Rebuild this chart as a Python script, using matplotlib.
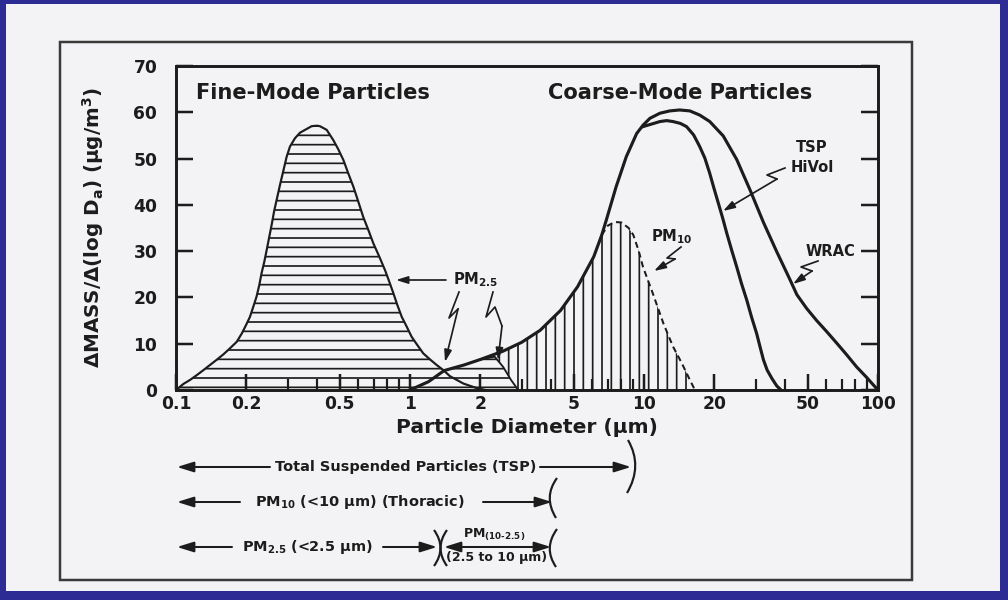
import matplotlib
matplotlib.use("Agg")
import matplotlib.pyplot as plt
from matplotlib.patches import Rectangle, FancyArrowPatch, PathPatch, ArrowStyle
from matplotlib.lines import Line2D
from matplotlib.path import Path
from matplotlib.ticker import FixedLocator, NullFormatter, LogLocator

plt.rcParams['font.family'] = ['DejaVu Sans']
plt.rcParams['font.weight'] = 'bold'
plt.rcParams['mathtext.default'] = 'bf'
plt.rcParams['hatch.linewidth'] = 1.1

# ---------------- data ----------------
fine_d = [0.1, 0.1075, 0.115, 0.1226, 0.131, 0.1397, 0.149, 0.1594, 0.170, 0.1817,
          0.191, 0.1991, 0.207, 0.214, 0.221, 0.227, 0.232, 0.2384, 0.244, 0.2504,
          0.257, 0.2623, 0.269, 0.2782, 0.288, 0.2971, 0.307, 0.3225, 0.339, 0.3619,
          0.38, 0.40, 0.412, 0.4406, 0.47, 0.4938, 0.519, 0.5448, 0.573, 0.6012,
          0.631, 0.6634, 0.697, 0.7394, 0.782, 0.8156, 0.849, 0.8824, 0.922, 0.9678,
          1.016, 1.075, 1.14, 1.218, 1.30, 1.388, 1.48, 1.69, 1.93, 2.1]
fine_v = [0.0, 1.3, 2.2, 3.2, 4.3, 5.4, 6.5, 7.7, 9.0, 10.4,
          12.2, 14.0, 15.8, 18.0, 20.2, 22.7, 25.2, 27.7, 30.2, 33.1,
          36.0, 38.5, 41.0, 44.3, 47.5, 50.4, 52.6, 54.4, 55.6, 56.4,
          57.0, 57.1, 57.0, 56.2, 54.0, 52.0, 49.7, 46.8, 43.9, 40.7,
          37.4, 34.6, 31.7, 28.8, 25.9, 23.4, 20.9, 18.4, 15.8, 13.7,
          11.5, 9.7, 7.9, 6.6, 5.4, 4.3, 3.0, 1.4, 0.4, 0.0]

# WRAC (coarse mode, full)
wrac_d = [1.0, 1.2, 1.4, 1.7, 2.0, 2.5, 3.0, 3.6, 4.4, 5.2, 6.1, 6.6, 6.9, 7.6, 8.4,
          9.3, 9.9, 10.6, 11.7, 12.9, 14.2, 15.7, 17.3, 19.1, 21.8, 24.9, 28.4,
          32.4, 36.9, 42.1, 45.0, 49.6, 54.7, 60.4, 66.7, 73.5, 81.0, 89.5, 95.5, 100.0]
wrac_v = [0.0, 1.8, 4.2, 5.4, 6.6, 8.4, 10.3, 12.9, 17.2, 22.3, 28.8, 33.5, 36.7, 43.9, 50.4,
          55.4, 57.2, 58.7, 59.8, 60.3, 60.5, 60.3, 59.4, 58.0, 54.9, 49.8, 43.2,
          36.2, 29.9, 23.8, 20.6, 17.6, 15.0, 12.6, 10.1, 7.6, 5.0, 2.7, 1.1, 0.0]

# TSP HiVol (splits from WRAC near 10 um)
tsp_d = [9.9, 11.7, 12.5, 13.3, 14.3, 15.2, 16.3, 17.3, 18.2, 19.1, 19.9, 20.8, 21.7,
         22.6, 23.7, 24.9, 26.1, 27.5, 28.8, 30.3, 31.3, 32.4, 33.6, 35.2, 36.9, 38.5]
tsp_v = [56.9, 58.0, 58.2, 58.0, 57.6, 56.9, 55.1, 52.6, 50.1, 46.8, 43.6, 40.3, 37.1,
         33.8, 30.2, 26.6, 23.0, 19.4, 15.8, 12.2, 9.4, 6.5, 4.3, 2.5, 0.9, 0.0]

# PM10 sampler cut (dashed)
pm10_d = [6.6, 7.0, 7.5, 8.0, 8.6, 9.0, 9.5, 9.9, 10.9, 12.1, 13.3, 14.5, 15.7, 16.5]
pm10_v = [33.5, 35.5, 36.3, 36.2, 35.0, 33.5, 30.0, 26.6, 20.9, 14.4, 9.4, 5.8, 2.2, 0.0]

# coarse part passing a PM2.5 sampler
pm25c_d = [1.4, 1.7, 2.0, 2.3, 2.5, 2.7, 2.9]
pm25c_v = [4.2, 5.4, 6.6, 7.2, 5.0, 2.2, 0.0]

xticks = [0.1, 0.2, 0.5, 1, 2, 5, 10, 20, 50, 100]
xticklabels = ['0.1', '0.2', '0.5', '1', '2', '5', '10', '20', '50', '100']
yticks = [0, 10, 20, 30, 40, 50, 60, 70]

# ---------------- figure ----------------
W, H, DPI = 1008, 600, 112
fig = plt.figure(figsize=(W / DPI, H / DPI), dpi=DPI)
fig.patch.set_facecolor('#2c2c94')


def P(x, y):
    return (x / W, 1 - y / H)


INK = '#1c1c1c'
fig.add_artist(Rectangle(P(6, 591), (1000 - 6) / W, (591 - 4) / H,
                         transform=fig.transFigure, facecolor='#f3f3f5',
                         edgecolor='none', zorder=-10))
fig.add_artist(Rectangle(P(60, 580), (912 - 60) / W, (580 - 42) / H,
                         transform=fig.transFigure, facecolor='none',
                         edgecolor='#3a3a3a', lw=1.6, zorder=-5))

ax = fig.add_axes([176 / W, 1 - 390 / H, 702 / W, 324 / H])
ax.set_facecolor('none')
ax.set_xscale('log')
ax.set_xlim(0.1, 100)
ax.set_ylim(0, 70)

# ---- hatched regions ----
cut = fine_d.index(1.388)
h_x = fine_d[:cut + 1] + pm25c_d + [0.1]
h_y = fine_v[:cut + 1] + pm25c_v + [0.0]
ax.fill(h_x, h_y, facecolor='none', edgecolor=INK, lw=0, hatch='--', zorder=1)

wr_mid = [(d, v) for d, v in zip(wrac_d, wrac_v) if 2.5 <= d < 6.6]
v_x = [pm25c_d[3]] + [d for d, _ in wr_mid] + pm10_d + [pm25c_d[-1], pm25c_d[-2], pm25c_d[-3]]
v_y = [pm25c_v[3]] + [v for _, v in wr_mid] + pm10_v + [pm25c_v[-1], pm25c_v[-2], pm25c_v[-3]]
ax.fill(v_x, v_y, facecolor='none', edgecolor=INK, lw=0, hatch='||', zorder=1)

# ---- curves ----
ax.plot(fine_d, fine_v, color=INK, lw=1.4, zorder=3)
ax.plot(wrac_d, wrac_v, color=INK, lw=2.0, zorder=3)
ax.plot(tsp_d, tsp_v, color=INK, lw=2.0, zorder=3)
ax.plot(pm10_d, pm10_v, color=INK, lw=1.3, ls=(0, (3, 2)), zorder=3)
ax.plot(pm25c_d[2:], pm25c_v[2:], color=INK, lw=1.2, zorder=3)

# ---- axes styling ----
for s in ax.spines.values():
    s.set_linewidth(1.9)
    s.set_color(INK)
ax.xaxis.set_major_locator(FixedLocator(xticks))
ax.set_xticklabels(xticklabels)
ax.xaxis.set_minor_locator(LogLocator(base=10, subs=(3, 4, 6, 7, 8, 9)))
ax.xaxis.set_minor_formatter(NullFormatter())
ax.set_yticks(yticks)
ax.tick_params(axis='x', which='major', direction='in', length=10, width=1.6,
               top=False, labelsize=11, pad=3, colors=INK)
ax.tick_params(axis='x', which='minor', direction='in', length=7, width=1.4, top=False,
               colors=INK)
ax.tick_params(axis='y', which='major', direction='in', length=11, width=1.6,
               left=True, right=True, labelsize=11, pad=12, colors=INK)
for lab in ax.get_xticklabels() + ax.get_yticklabels():
    lab.set_fontweight('bold')

ax.set_xlabel('Particle Diameter (µm)', fontsize=13, fontweight='bold', color=INK)
ax.xaxis.set_label_coords(0.5, -0.085)
ax.set_ylabel(r'ΔMASS/Δ(log D$_a$) (µg/m$^3$)', fontsize=12.8, fontweight='bold', color=INK)
ax.yaxis.set_label_coords(-0.10, 0.5)

# ---- titles in plot ----
fig.text(*P(313, 93), 'Fine-Mode Particles', ha='center', va='center',
         fontsize=13.5, fontweight='bold', color=INK)
fig.text(*P(680, 93), 'Coarse-Mode Particles', ha='center', va='center',
         fontsize=13.5, fontweight='bold', color=INK)

# ---- annotations ----
fig.text(*P(476, 280), r'PM$_{2.5}$', ha='center', va='center', fontsize=9.5,
         fontweight='bold', color=INK)
fig.text(*P(672, 237), r'PM$_{10}$', ha='center', va='center', fontsize=9.5,
         fontweight='bold', color=INK)
fig.text(*P(812, 148), 'TSP', ha='center', va='center', fontsize=9.5,
         fontweight='bold', color=INK)
fig.text(*P(812, 168), 'HiVol', ha='center', va='center', fontsize=9.5,
         fontweight='bold', color=INK)
fig.text(*P(830, 251), 'WRAC', ha='center', va='center', fontsize=9.5,
         fontweight='bold', color=INK)


def arrow(a, b, both=False, lw=1.3, hl=0.9, hw=0.28, ms=10):
    style = ArrowStyle('<|-|>' if both else '-|>', head_length=hl, head_width=hw)
    fig.add_artist(FancyArrowPatch(P(*a), P(*b), transform=fig.transFigure,
                                   arrowstyle=style, mutation_scale=ms, lw=lw,
                                   color=INK, shrinkA=0, shrinkB=0, zorder=4))


def leader(pts, lw=1.1):
    xs = [P(*p)[0] for p in pts[:-1]]
    ys = [P(*p)[1] for p in pts[:-1]]
    fig.add_artist(Line2D(xs, ys, transform=fig.transFigure, color=INK, lw=lw, zorder=4))
    arrow(pts[-2], pts[-1], lw=lw, hl=0.7, hw=0.22, ms=9)


def bracket(top, ctrl, bot, lw=1.4):
    path = Path([P(*top), P(*ctrl), P(*bot)], [Path.MOVETO, Path.CURVE3, Path.CURVE3])
    fig.add_artist(PathPatch(path, transform=fig.transFigure, fill=False, lw=lw,
                             edgecolor=INK, zorder=4))


arrow((446, 280), (396, 280), lw=1.1, hl=0.7, hw=0.22, ms=9)
leader([(459, 292), (449, 318), (458, 309), (445, 362)])
leader([(493, 292), (486, 317), (495, 307), (502, 326), (498, 360)])
leader([(681, 247), (667, 258), (675, 259), (654, 271)])
leader([(785, 168), (767, 175), (777, 179), (723, 211)])
leader([(818, 261), (801, 267), (812, 271), (793, 284)])

# ---- size ranges below the axis ----
rows = [467, 502, 547]
fs = 9.3
fig.text(*P(406, rows[0]), 'Total Suspended Particles (TSP)', ha='center', va='center',
         fontsize=fs, fontweight='bold', color=INK)
arrow((270, rows[0]), (177, rows[0]))
arrow((540, rows[0]), (631, rows[0]))
bracket((628, 440), (643, 466), (627, 493))

fig.text(*P(360, rows[1]), r'PM$_{10}$ (<10 µm) (Thoracic)', ha='center', va='center',
         fontsize=fs, fontweight='bold', color=INK)
arrow((240, rows[1]), (177, rows[1]))
arrow((483, rows[1]), (552, rows[1]))
bracket((557, 478), (543, 497), (556, 518))

fig.text(*P(307, rows[2]), r'PM$_{2.5}$ (<2.5 µm)', ha='center', va='center',
         fontsize=fs, fontweight='bold', color=INK)
arrow((232, rows[2]), (177, rows[2]))
arrow((383, rows[2]), (437, rows[2]))
bracket((434, 530), (447, 548), (434, 566))
bracket((447, 530), (434, 548), (447, 566))
arrow((444, rows[2]), (551, rows[2]), both=True)
bracket((557, 529), (543, 548), (556, 567))
fig.text(*P(494, 535), r'PM$_{(10\text{-}2.5)}$', ha='center', va='center',
         fontsize=8, fontweight='bold', color=INK)
fig.text(*P(497, 558), '(2.5 to 10 µm)', ha='center', va='center',
         fontsize=8, fontweight='bold', color=INK)

fig.savefig('out.png', dpi=DPI, facecolor=fig.get_facecolor())
